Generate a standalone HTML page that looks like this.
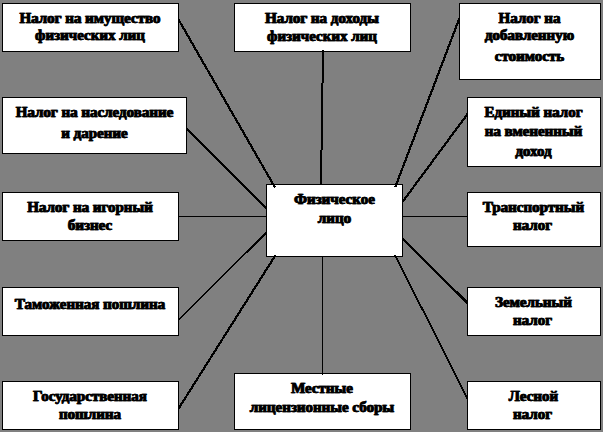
<!DOCTYPE html>
<html><head><meta charset="utf-8"><style>
html,body{margin:0;padding:0;width:603px;height:432px;overflow:hidden;background:#808080;}
svg{display:block;}
text{font-family:"Liberation Serif",serif;font-weight:bold;font-size:15px;text-anchor:middle;fill:#000;stroke:#000;stroke-width:0.5px;}
</style></head><body>
<svg width="603" height="432" viewBox="0 0 603 432">
<rect x="0" y="0" width="603" height="432" fill="#808080"/>
<rect x="2.5" y="3.5" width="176" height="48" fill="#fff" stroke="#000" stroke-width="1"/>
<rect x="234.5" y="3.5" width="176" height="48" fill="#fff" stroke="#000" stroke-width="1"/>
<rect x="459.5" y="3.5" width="141" height="76" fill="#fff" stroke="#000" stroke-width="1"/>
<rect x="2.5" y="97.5" width="184" height="56" fill="#fff" stroke="#000" stroke-width="1"/>
<rect x="467.5" y="97.5" width="133" height="69" fill="#fff" stroke="#000" stroke-width="1"/>
<rect x="266.5" y="184.5" width="136" height="72" fill="#fff" stroke="#000" stroke-width="1"/>
<rect x="2.5" y="192.5" width="176" height="48" fill="#fff" stroke="#000" stroke-width="1"/>
<rect x="467.5" y="192.5" width="133" height="54" fill="#fff" stroke="#000" stroke-width="1"/>
<rect x="2.5" y="287.5" width="176" height="48" fill="#fff" stroke="#000" stroke-width="1"/>
<rect x="467.5" y="287.5" width="133" height="48" fill="#fff" stroke="#000" stroke-width="1"/>
<rect x="2.5" y="381.5" width="176" height="48" fill="#fff" stroke="#000" stroke-width="1"/>
<rect x="234.5" y="373.5" width="176" height="56" fill="#fff" stroke="#000" stroke-width="1"/>
<rect x="467.5" y="381.5" width="133" height="48" fill="#fff" stroke="#000" stroke-width="1"/>
<line shape-rendering="crispEdges" x1="178.5" y1="19.5" x2="275" y2="187.5" stroke="#000" stroke-width="2.2"/>
<line shape-rendering="crispEdges" x1="323" y1="50.5" x2="321" y2="185" stroke="#000" stroke-width="2"/>
<line shape-rendering="crispEdges" x1="459.5" y1="18" x2="395.3" y2="187" stroke="#000" stroke-width="2.2"/>
<line shape-rendering="crispEdges" x1="186.5" y1="128.5" x2="266.5" y2="208.5" stroke="#000" stroke-width="2.2"/>
<line shape-rendering="crispEdges" x1="467.5" y1="114" x2="402.8" y2="201.5" stroke="#000" stroke-width="2.2"/>
<line shape-rendering="crispEdges" x1="178.5" y1="216.5" x2="266.5" y2="216.5" stroke="#000" stroke-width="1"/>
<line shape-rendering="crispEdges" x1="402.5" y1="216.5" x2="467.5" y2="216.5" stroke="#000" stroke-width="1"/>
<line shape-rendering="crispEdges" x1="178.5" y1="320" x2="266.5" y2="232.5" stroke="#000" stroke-width="1.6"/>
<line shape-rendering="crispEdges" x1="402.8" y1="239" x2="467.5" y2="303" stroke="#000" stroke-width="2.3"/>
<line shape-rendering="crispEdges" x1="178.5" y1="408.7" x2="275.6" y2="255" stroke="#000" stroke-width="2.2"/>
<line shape-rendering="crispEdges" x1="322.5" y1="256" x2="322.5" y2="375" stroke="#000" stroke-width="1"/>
<line shape-rendering="crispEdges" x1="395" y1="255" x2="467.5" y2="398.6" stroke="#000" stroke-width="1.8"/>
<text x="89.7" y="22.6">Налог на имущество</text><text x="90.3" y="22.6">Налог на имущество</text>
<text x="89.7" y="40.2">физических  лиц</text><text x="90.3" y="40.2">физических  лиц</text>
<text x="321.7" y="23.3">Налог на доходы</text><text x="322.3" y="23.3">Налог на доходы</text>
<text x="321.7" y="40.6">физических  лиц</text><text x="322.3" y="40.6">физических  лиц</text>
<text x="529.2" y="22.8">Налог на</text><text x="529.8" y="22.8">Налог на</text>
<text x="529.2" y="40.4">добавленную</text><text x="529.8" y="40.4">добавленную</text>
<text x="529.2" y="61.4">стоимость</text><text x="529.8" y="61.4">стоимость</text>
<text x="94.2" y="116.8">Налог на наследование</text><text x="94.8" y="116.8">Налог на наследование</text>
<text x="94.2" y="138">и дарение</text><text x="94.8" y="138">и дарение</text>
<text x="533.2" y="116.6">Единый налог</text><text x="533.8" y="116.6">Единый налог</text>
<text x="533.2" y="135.7">на вмененный</text><text x="533.8" y="135.7">на вмененный</text>
<text x="533.2" y="155.7">доход</text><text x="533.8" y="155.7">доход</text>
<text x="334.2" y="203.6">Физическое</text><text x="334.8" y="203.6">Физическое</text>
<text x="334.2" y="222.8">лицо</text><text x="334.8" y="222.8">лицо</text>
<text x="89.7" y="211.7">Налог на игорный</text><text x="90.3" y="211.7">Налог на игорный</text>
<text x="89.7" y="229.9">бизнес</text><text x="90.3" y="229.9">бизнес</text>
<text x="533.2" y="211.9">Транспортный</text><text x="533.8" y="211.9">Транспортный</text>
<text x="532.2" y="230.2">налог</text><text x="532.8" y="230.2">налог</text>
<text x="89.7" y="308.9">Таможенная пошлина</text><text x="90.3" y="308.9">Таможенная пошлина</text>
<text x="533.2" y="306.9">Земельный</text><text x="533.8" y="306.9">Земельный</text>
<text x="532.2" y="324.8">налог</text><text x="532.8" y="324.8">налог</text>
<text x="89.7" y="400.9">Государственная</text><text x="90.3" y="400.9">Государственная</text>
<text x="89.7" y="418.9">пошлина</text><text x="90.3" y="418.9">пошлина</text>
<text x="321.7" y="392.9">Местные</text><text x="322.3" y="392.9">Местные</text>
<text x="321.7" y="411.7">лицензионные сборы</text><text x="322.3" y="411.7">лицензионные сборы</text>
<text x="533.2" y="400.9">Лесной</text><text x="533.8" y="400.9">Лесной</text>
<text x="532.2" y="418.8">налог</text><text x="532.8" y="418.8">налог</text>
</svg>
</body></html>
